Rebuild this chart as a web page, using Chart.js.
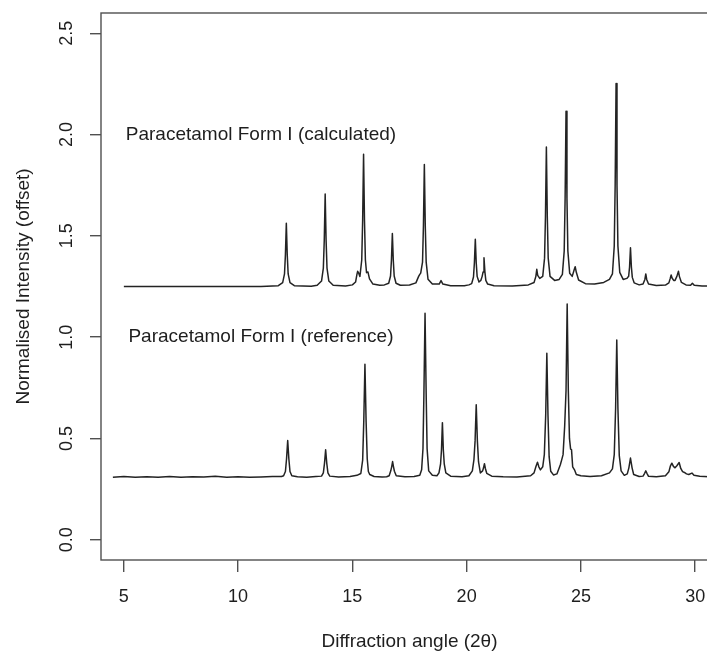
<!DOCTYPE html>
<html>
<head>
<meta charset="utf-8">
<script src="https://cdn.jsdelivr.net/npm/chart.js@4.4.1/dist/chart.umd.min.js"></script>
<style>
  html, body { margin: 0; padding: 0; background: #fff; overflow: hidden; }
  #wrap { width: 707px; height: 654px; overflow: hidden; }
  canvas { display: block; }
</style>
</head>
<body>
<div id="wrap"><canvas id="c" width="740" height="654"></canvas></div>
<script>
// ---- data ----
const xTickValues = [5, 10, 15, 20, 25, 30];
const xTickLabels = ['5', '10', '15', '20', '25', '30'];
const yTickValues = [0, 0.5, 1, 1.5, 2, 2.5];
const yTickLabels = ['0.0', '0.5', '1.0', '1.5', '2.0', '2.5'];
const xTitle = 'Diffraction angle (2θ)';
const yTitle = 'Normalised Intensity (offset)';
const annotationLabels = ['Paracetamol Form I (calculated)', 'Paracetamol Form I (reference)'];
const annotationX = [11, 11];
const annotationY = [2.0, 1.0];

// calculated pattern (offset), [2θ, intensity]
const calcPattern = [
  [5.00,1.250],[8.00,1.250],[11.00,1.250],[11.76,1.254],
  [11.95,1.269],[12.03,1.312],[12.07,1.406],[12.11,1.562],[12.15,1.406],[12.19,1.312],[12.27,1.269],[12.46,1.254],
  [13.20,1.251],[13.46,1.256],
  [13.65,1.277],[13.73,1.341],[13.77,1.478],[13.81,1.706],[13.85,1.478],[13.89,1.341],[13.97,1.277],[14.16,1.256],
  [14.70,1.252],[15.00,1.258],[15.14,1.272],[15.20,1.310],[15.23,1.325],[15.27,1.318],[15.33,1.300],
  [15.41,1.381],[15.45,1.577],[15.49,1.903],[15.53,1.577],[15.57,1.381],[15.62,1.318],[15.68,1.322],[15.75,1.288],[15.90,1.262],
  [16.20,1.256],[16.40,1.258],
  [16.59,1.266],[16.67,1.302],[16.71,1.381],[16.75,1.512],[16.79,1.381],[16.83,1.302],[16.91,1.266],[17.10,1.256],
  [17.50,1.257],[17.78,1.268],[17.90,1.300],[17.95,1.310],[17.99,1.316],
  [18.07,1.370],[18.11,1.551],[18.15,1.852],[18.19,1.551],[18.23,1.370],[18.31,1.286],[18.50,1.262],
  [18.80,1.262],[18.88,1.279],[18.96,1.262],[19.30,1.254],[19.90,1.254],
  [20.10,1.258],[20.22,1.264],[20.30,1.297],[20.34,1.367],[20.38,1.483],[20.42,1.367],[20.46,1.300],[20.54,1.272],
  [20.62,1.280],[20.68,1.300],[20.72,1.322],[20.76,1.392],[20.80,1.322],[20.84,1.280],[20.92,1.262],[21.20,1.254],
  [22.00,1.252],[22.70,1.258],
  [22.95,1.270],[23.03,1.300],[23.07,1.335],[23.11,1.305],[23.20,1.290],
  [23.33,1.300],[23.41,1.390],[23.45,1.595],[23.49,1.939],[23.53,1.595],[23.57,1.390],[23.65,1.300],[23.85,1.280],
  [24.05,1.285],[24.19,1.310],[24.27,1.425],[24.31,1.685],[24.35,2.115],[24.39,1.685],[24.43,1.425],[24.51,1.315],
  [24.62,1.300],[24.70,1.330],[24.75,1.348],[24.80,1.320],[24.90,1.282],[25.20,1.264],[25.60,1.262],
  [26.00,1.270],[26.25,1.285],[26.38,1.312],[26.46,1.450],[26.50,1.750],[26.54,2.252],[26.58,1.750],[26.62,1.450],[26.70,1.320],[26.85,1.285],
  [27.01,1.290],[27.09,1.300],[27.13,1.346],[27.17,1.441],[27.21,1.346],[27.25,1.295],[27.33,1.268],[27.55,1.258],
  [27.72,1.262],[27.80,1.285],[27.84,1.312],[27.88,1.285],[27.96,1.262],[28.30,1.255],[28.70,1.257],
  [28.85,1.268],[28.91,1.290],[28.95,1.307],[28.99,1.292],[29.06,1.280],[29.12,1.280],[29.20,1.300],[29.27,1.325],[29.31,1.300],[29.40,1.270],[29.60,1.258],
  [29.80,1.256],[29.88,1.266],[29.96,1.256],[30.30,1.253],[30.90,1.252]
];

// measured reference pattern (offset), [2θ, intensity]
const refPattern = [
  [4.52,0.309],[5.00,0.312],[5.50,0.308],[6.00,0.311],[6.50,0.309],[7.00,0.312],[7.50,0.308],[8.00,0.311],
  [8.50,0.310],[9.00,0.313],[9.50,0.309],[10.00,0.311],[10.50,0.308],[11.00,0.310],[11.50,0.312],[11.90,0.312],
  [11.99,0.316],[12.07,0.337],[12.12,0.400],[12.17,0.490],[12.22,0.400],[12.27,0.337],[12.35,0.316],[12.60,0.311],[13.00,0.309],[13.40,0.312],
  [13.65,0.314],[13.73,0.330],[13.78,0.377],[13.83,0.444],[13.88,0.377],[13.93,0.330],[14.01,0.314],[14.40,0.310],[14.90,0.312],[15.20,0.318],
  [15.37,0.327],[15.45,0.393],[15.50,0.588],[15.55,0.866],[15.60,0.588],[15.65,0.400],[15.70,0.337],[15.76,0.322],[15.95,0.312],[16.30,0.310],[16.50,0.311],
  [16.61,0.316],[16.68,0.340],[16.72,0.360],[16.76,0.386],[16.80,0.360],[16.84,0.338],[16.92,0.316],[17.30,0.311],[17.70,0.312],[17.95,0.318],
  [18.03,0.345],[18.09,0.450],[18.13,0.714],[18.18,1.118],[18.23,0.714],[18.27,0.450],[18.34,0.340],[18.50,0.318],[18.70,0.316],
  [18.79,0.330],[18.86,0.375],[18.90,0.444],[18.94,0.578],[18.98,0.444],[19.02,0.375],[19.09,0.330],[19.30,0.314],[19.80,0.311],[20.10,0.316],
  [20.25,0.340],[20.32,0.395],[20.37,0.488],[20.42,0.666],[20.47,0.488],[20.52,0.385],[20.60,0.330],
  [20.70,0.340],[20.74,0.355],[20.78,0.375],[20.82,0.352],[20.88,0.328],[21.10,0.314],[21.60,0.311],[22.20,0.310],[22.80,0.316],
  [22.95,0.330],[23.03,0.360],[23.10,0.383],[23.16,0.360],[23.23,0.345],
  [23.33,0.360],[23.40,0.420],[23.46,0.615],[23.51,0.921],[23.56,0.615],[23.61,0.410],[23.68,0.338],[23.80,0.320],[23.95,0.325],
  [24.10,0.370],[24.16,0.394],[24.22,0.420],[24.29,0.560],[24.35,0.737],[24.40,1.164],[24.45,0.737],[24.50,0.500],
  [24.55,0.447],[24.59,0.445],[24.64,0.360],[24.72,0.345],[24.80,0.322],[25.00,0.316],[25.40,0.312],[25.90,0.316],
  [26.25,0.330],[26.38,0.350],[26.46,0.420],[26.52,0.650],[26.57,0.986],[26.62,0.650],[26.68,0.415],[26.76,0.340],[26.90,0.318],
  [27.03,0.325],[27.10,0.355],[27.17,0.403],[27.24,0.355],[27.31,0.322],[27.55,0.312],
  [27.72,0.314],[27.79,0.328],[27.84,0.340],[27.89,0.328],[27.96,0.313],[28.30,0.311],[28.70,0.316],
  [28.85,0.335],[28.92,0.365],[28.98,0.378],[29.05,0.362],[29.12,0.355],[29.20,0.365],[29.30,0.381],[29.37,0.352],
  [29.45,0.336],[29.53,0.332],[29.62,0.325],[29.72,0.322],[29.86,0.329],[29.95,0.318],[30.20,0.313],[30.60,0.311],[31.00,0.310]
];

// ---- chart ----
const FONT = '"Liberation Sans", Arial, Helvetica, sans-serif';
const INK = '#232323';
const TEXT = '#1e1e1e';
const AXIS = '#505050';

const rStyle = {
  id: 'rStyle',
  afterDraw(chart) {
    const { ctx, chartArea: a, scales: { x, y } } = chart;
    ctx.save();
    // box
    ctx.strokeStyle = AXIS;
    ctx.lineWidth = 1.4;
    ctx.strokeRect(a.left, a.top, a.right - a.left, a.bottom - a.top);
    ctx.fillStyle = TEXT;
    ctx.textAlign = 'center';
    ctx.textBaseline = 'alphabetic';
    // x tick labels
    ctx.font = '18px ' + FONT;
    x.ticks.forEach(t => ctx.fillText(t.label, x.getPixelForValue(t.value), a.bottom + 42));
    // y tick labels (rotated, R style)
    y.ticks.forEach(t => {
      ctx.save();
      ctx.translate(a.left - 29, y.getPixelForValue(t.value));
      ctx.rotate(-Math.PI / 2);
      ctx.fillText(t.label, 0, 0);
      ctx.restore();
    });
    // axis titles
    ctx.font = '19px ' + FONT;
    ctx.fillText(xTitle, (a.left + a.right) / 2, a.bottom + 86.5);
    ctx.save();
    ctx.translate(a.left - 72, (a.top + a.bottom) / 2);
    ctx.rotate(-Math.PI / 2);
    ctx.fillText(yTitle, 0, 0);
    ctx.restore();
    // in-plot labels
    annotationLabels.forEach((s, i) => {
      ctx.fillText(s, x.getPixelForValue(annotationX[i]), y.getPixelForValue(annotationY[i]) + 5);
    });
    ctx.restore();
  }
};

new Chart(document.getElementById('c'), {
  type: 'scatter',
  data: {
    datasets: [
      { label: 'calculated', data: calcPattern.map(p => ({ x: p[0], y: p[1] })) },
      { label: 'reference', data: refPattern.map(p => ({ x: p[0], y: p[1] })) }
    ].map(d => Object.assign(d, {
      showLine: true, borderColor: INK, borderWidth: 1.5, pointRadius: 0,
      pointHoverRadius: 0, tension: 0, fill: false, borderJoinStyle: 'round'
    }))
  },
  options: {
    responsive: false,
    animation: false,
    devicePixelRatio: 1,
    layout: { padding: { left: 0, top: 13, right: 22, bottom: 0 } },
    plugins: { legend: { display: false }, tooltip: { enabled: false } },
    scales: {
      x: {
        type: 'linear', min: 4, max: 31,
        afterBuildTicks: s => { s.ticks = xTickValues.map(v => ({ value: v })); },
        afterFit: s => { s.height = 94; },
        ticks: { display: false, callback: (v, i) => xTickLabels[i] },
        grid: { display: true, drawOnChartArea: false, drawTicks: true, tickLength: 12, color: AXIS, lineWidth: 1.4 },
        border: { display: false }
      },
      y: {
        type: 'linear', min: -0.1, max: 2.6,
        afterBuildTicks: s => { s.ticks = yTickValues.map(v => ({ value: v })); },
        afterFit: s => { s.width = 101; },
        ticks: { display: false, callback: (v, i) => yTickLabels[i] },
        grid: { display: true, drawOnChartArea: false, drawTicks: true, tickLength: 11, color: AXIS, lineWidth: 1.4 },
        border: { display: false }
      }
    }
  },
  plugins: [rStyle]
});
</script>
</body>
</html>
